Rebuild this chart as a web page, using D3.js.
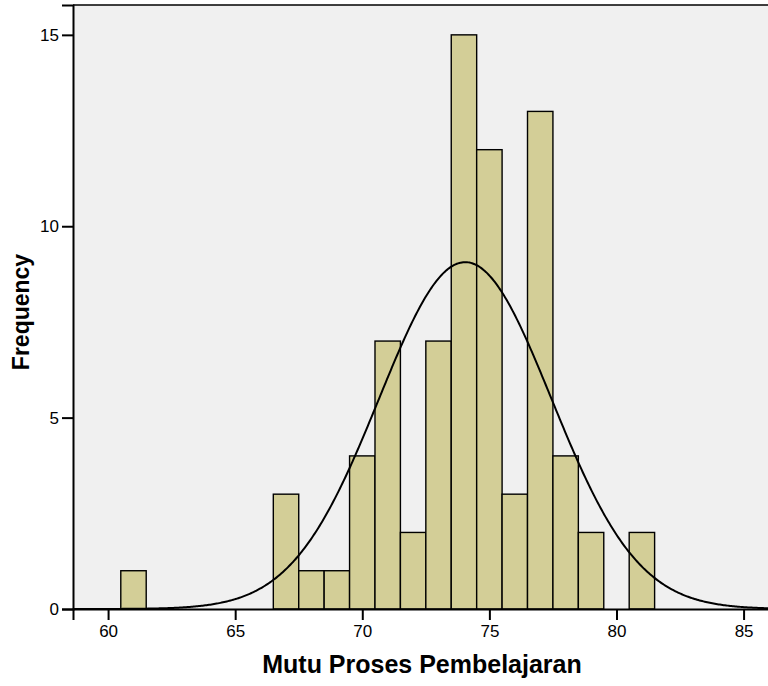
<!DOCTYPE html>
<html>
<head>
<meta charset="utf-8">
<script src="https://cdn.jsdelivr.net/npm/d3@7"></script>
<style>
  body { margin: 0; background: #fff; }
  text { font-family: Arial, "Liberation Sans", sans-serif; }
</style>
</head>
<body>
<div id="chart"></div>
<script>
// histogram bins (midpoint values) and their counts
const binValues = [61, 67, 68, 69, 70, 71, 72, 73, 74, 75, 76, 77, 78, 79, 81];
const binCounts = [1, 3, 1, 1, 4, 7, 2, 7, 15, 12, 3, 13, 4, 2, 2];
const xTicks = [60, 65, 70, 75, 80, 85];
const yTicks = [0, 5, 10, 15];

// normal curve parameters
const curveMean = 74.05;
const curveSd = 3.39;
const curveN = 77;

const width = 768;
const height = 686;
const margin = { top: 5, right: -1, bottom: 77, left: 73 };

const svg = d3.select("#chart")
    .append("svg")
    .attr("width", width)
    .attr("height", height);

const x = d3.scaleLinear()
    .domain([58.62, 86.0])
    .range([margin.left, width - margin.right]);

const y = d3.scaleLinear()
    .domain([0, 15.78])
    .range([height - margin.bottom, margin.top]);

// plot background
svg.append("rect")
    .attr("x", margin.left)
    .attr("y", margin.top)
    .attr("width", width - margin.right - margin.left)
    .attr("height", height - margin.bottom - margin.top)
    .attr("fill", "#f0f0f0");

// bars
svg.selectAll("rect.bar")
    .data(binValues.map((v, i) => ({ v, c: binCounts[i] })))
    .join("rect")
    .attr("class", "bar")
    .attr("x", d => x(d.v - 0.5))
    .attr("y", d => y(d.c))
    .attr("width", d => x(d.v + 0.5) - x(d.v - 0.5))
    .attr("height", d => y(0) - y(d.c))
    .attr("fill", "#d3ce97")
    .attr("stroke", "#000")
    .attr("stroke-width", 1.4);

// normal curve
const curvePts = d3.range(58.62, 86.01, 0.05).map(t => [
    t,
    curveN / (curveSd * Math.sqrt(2 * Math.PI)) * Math.exp(-0.5 * ((t - curveMean) / curveSd) ** 2)
]);

svg.append("path")
    .datum(curvePts)
    .attr("d", d3.line().x(d => x(d[0])).y(d => y(d[1])))
    .attr("fill", "none")
    .attr("stroke", "#000")
    .attr("stroke-width", 2);

// frame: top border
svg.append("line")
    .attr("x1", margin.left).attr("x2", width)
    .attr("y1", margin.top).attr("y2", margin.top)
    .attr("stroke", "#000").attr("stroke-width", 1.5);

// axes
const xAxis = d3.axisBottom(x).tickValues(xTicks).tickSize(11).tickPadding(5);
const gx = svg.append("g")
    .attr("transform", `translate(0,${y(0)})`)
    .call(xAxis);
gx.select(".domain").attr("stroke-width", 2);
gx.selectAll(".tick line").attr("stroke-width", 2);
gx.selectAll(".tick text").attr("font-size", 17).attr("fill", "#000");

const yAxis = d3.axisLeft(y).tickValues(yTicks).tickSize(11).tickPadding(3);
const gy = svg.append("g")
    .attr("transform", `translate(${margin.left},0)`)
    .call(yAxis);
gy.select(".domain").attr("stroke-width", 2);
gy.selectAll(".tick line").attr("stroke-width", 2);
gy.selectAll(".tick text").attr("font-size", 17).attr("fill", "#000");

// axis titles
svg.append("text")
    .attr("x", 422)
    .attr("y", 673)
    .attr("text-anchor", "middle")
    .attr("font-size", 25)
    .attr("font-weight", "bold")
    .text("Mutu Proses Pembelajaran");

svg.append("text")
    .attr("transform", "translate(29,312) rotate(-90)")
    .attr("text-anchor", "middle")
    .attr("font-size", 23)
    .attr("font-weight", "bold")
    .text("Frequency");
</script>
</body>
</html>
